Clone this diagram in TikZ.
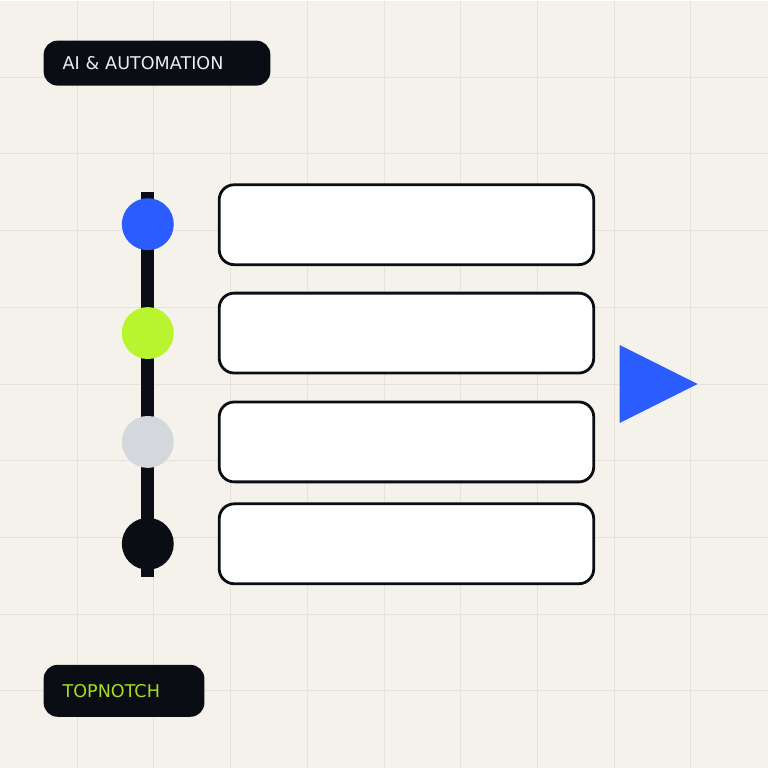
\documentclass[tikz,border=0pt]{standalone}
\usepackage{fontspec}
\setmainfont{DejaVu Sans}
\usetikzlibrary{positioning}

\definecolor{paper}{HTML}{F5F2EC}
\definecolor{gridc}{HTML}{E6E2DA}
\definecolor{ink}{HTML}{0A0E14}
\definecolor{tnblue}{HTML}{2B5CFF}
\definecolor{tngreen}{HTML}{B8F52E}
\definecolor{tngrey}{HTML}{D4D7DC}
\definecolor{pilltext}{HTML}{ECECEC}
\definecolor{labelgreen}{HTML}{A8DC22}

\begin{document}
\begin{tikzpicture}[
        x=1pt, y=-1pt,
        gridline/.style={gridc, line width=1pt},
        pill/.style={rectangle, rounded corners=14pt, fill=ink, inner xsep=19pt, inner ysep=0pt, align=left, font=\fontsize{17.6}{20}\selectfont},
        slot/.style={rectangle, draw=ink, line width=2.8pt, fill=white, rounded corners=15pt, minimum width=375pt, minimum height=80pt},
        dot/.style={circle, minimum size=52pt, inner sep=0pt},
        spine/.style={ink, line width=13pt}
    ]

        % background and grid
        \fill[paper] (0,0) rectangle (768,768);
        \foreach \k in {1,...,9} {
            \draw[gridline] (76.8*\k,0) -- (76.8*\k,768);
            \draw[gridline] (0,76.8*\k) -- (768,76.8*\k);
        }

        % labels
        \node[pill, anchor=north west, minimum height=45pt, text width=189pt, text=pilltext] (tag) at (43,40) {AI \& AUTOMATION};
        \node[pill, anchor=north west, minimum height=52pt, text width=123pt, text=labelgreen] (brand) at (43,665) {TOPNOTCH};

        % timeline
        \coordinate (top) at (147.5,192);
        \coordinate (bottom) at (147.5,577);
        \draw[spine] (top) -- (bottom);

        \node[dot, fill=tnblue] (d1) at (147.5,224) {};
        \node[dot, fill=tngreen] (d2) at (147.5,333) {};
        \node[dot, fill=tngrey] (d3) at (147.5,442) {};
        \node[dot, fill=ink] (d4) at (147.5,544) {};

        % boxes
        \node[slot] (s1) at (406.5,224.5) {};
        \node[slot] (s2) at (406.5,333) {};
        \node[slot] (s3) at (406.5,442) {};
        \node[slot] (s4) at (406.5,544) {};

        % play arrow
        \fill[tnblue] (620,345) -- (698,384) -- (620,423) -- cycle;
    \end{tikzpicture}
\end{document}
